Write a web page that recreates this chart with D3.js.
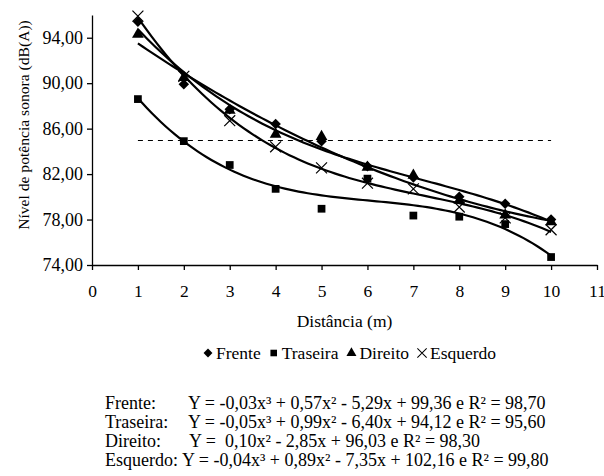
<!DOCTYPE html>
<html>
<head>
<meta charset="utf-8">
<script src="https://cdn.jsdelivr.net/npm/d3@7"></script>
<style>
  body { margin: 0; background: #fff; }
  svg text { font-family: "Liberation Serif", "Times New Roman", Times, serif; fill: #000; }
</style>
</head>
<body>
<div id="chart"></div>
<script>
const distances = [1, 2, 3, 4, 5, 6, 7, 8, 9, 10];
const frente   = [95.4, 89.9, 87.7, 86.4, 84.9, 82.7, 81.7, 80.0, 79.4, 78.0];
const traseira = [88.6, 84.9, 82.8, 80.7, 78.95, 81.6, 78.35, 78.25, 77.6, 74.7];
const direito  = [94.3, 90.5, 87.6, 85.5, 85.3, 82.6, 81.9, 79.7, 78.4, 77.8];
const esquerdo = [95.9, 90.6, 86.7, 84.4, 82.55, 81.2, 80.7, 79.1, 78.15, 77.1];
const seriesNames = ['Frente', 'Traseira', 'Direito', 'Esquerdo'];
const fitDegrees = [3, 3, 2, 3];
const yTicks = [74, 78, 82, 86, 90, 94];
const xTicks = [0, 1, 2, 3, 4, 5, 6, 7, 8, 9, 10, 11];
const referenceLevel = 85;
const equations = [
  ['Frente:', 'Y = -0,03x³ + 0,57x² - 5,29x + 99,36 e R² = 98,70'],
  ['Traseira:', 'Y = -0,05x³ + 0,99x² - 6,40x + 94,12 e R² = 95,60'],
  ['Direito:', 'Y =  0,10x² - 2,85x + 96,03 e R² = 98,30'],
  ['Esquerdo:', 'Y = -0,04x³ + 0,89x² - 7,35x + 102,16 e R² = 99,80']
];

const width = 604, height = 476;
const margin = { left: 92, right: 7, top: 15, bottom: 211 };
const fontFamily = '"Liberation Serif", "Times New Roman", serif';

const svg = d3.select('#chart').append('svg')
  .attr('width', width)
  .attr('height', height);

const x = d3.scaleLinear().domain([0, 11]).range([margin.left, width - margin.right]);
const y = d3.scaleLinear().domain([74, 96]).range([height - margin.bottom, margin.top]);

// least squares polynomial fit (like the excel trend lines)
function polyfit(xs, ys, deg) {
  const n = deg + 1;
  const A = [];
  for (let i = 0; i < n; i++) {
    A.push(new Array(n + 1).fill(0));
    for (let j = 0; j < n; j++) {
      A[i][j] = d3.sum(xs, v => Math.pow(v, i + j));
    }
    A[i][n] = d3.sum(xs, (v, k) => ys[k] * Math.pow(v, i));
  }
  for (let c = 0; c < n; c++) {
    let p = c;
    for (let r = c + 1; r < n; r++) if (Math.abs(A[r][c]) > Math.abs(A[p][c])) p = r;
    [A[c], A[p]] = [A[p], A[c]];
    for (let r = 0; r < n; r++) {
      if (r === c) continue;
      const f = A[r][c] / A[c][c];
      for (let k = c; k <= n; k++) A[r][k] -= f * A[c][k];
    }
  }
  return A.map((row, i) => row[n] / row[i]);
}

const allSeries = [frente, traseira, direito, esquerdo].map((vals, i) => ({
  name: seriesNames[i],
  points: distances.map((d, k) => [d, vals[k]]),
  coef: polyfit(distances, vals, fitDegrees[i])
}));

// axes
const yAxis = svg.append('g')
  .attr('transform', 'translate(' + margin.left + ',0)')
  .call(d3.axisLeft(y).tickValues(yTicks).tickSize(5).tickSizeOuter(0)
    .tickFormat(d => d3.format('.2f')(d).replace('.', ',')));

const xAxis = svg.append('g')
  .attr('transform', 'translate(0,' + y(74) + ')')
  .call(d3.axisBottom(x).tickValues(xTicks).tickSize(5).tickSizeOuter(0));

[xAxis, yAxis].forEach(ax => {
  ax.attr('font-family', fontFamily);
  ax.select('.domain').attr('stroke', '#000').attr('stroke-width', 1.3);
  ax.selectAll('.tick line').attr('stroke', '#000').attr('stroke-width', 1.3);
  ax.selectAll('.tick text')
    .style('font-family', fontFamily)
    .style('font-size', '17.5px')
    .attr('fill', '#000');
});
yAxis.selectAll('.tick text').attr('x', -9).style('font-size', '18px');
xAxis.selectAll('.tick text').attr('y', 20);

// reference dashed line at 85 dB(A)
svg.append('line')
  .attr('x1', x(1)).attr('x2', x(10))
  .attr('y1', y(referenceLevel) + 0.5).attr('y2', y(referenceLevel) + 0.5)
  .attr('stroke', '#000')
  .attr('stroke-width', 1)
  .attr('stroke-dasharray', '5,5');

// trend lines
const line = d3.line()
  .x(d => x(d[0]))
  .y(d => y(d[1]));

const samples = d3.range(1, 10.001, 0.1);
allSeries.forEach(s => {
  const pts = samples.map(v => [v, s.coef.reduce((acc, c, i) => acc + c * Math.pow(v, i), 0)]);
  svg.append('path')
    .datum(pts)
    .attr('fill', 'none')
    .attr('stroke', '#000')
    .attr('stroke-width', 2.2)
    .attr('d', line);
});

// markers
const symbols = {
  Frente: d3.symbol().type(d3.symbolDiamond2).size(70),
  Traseira: d3.symbol().type(d3.symbolSquare).size(60),
  Direito: d3.symbol().type(d3.symbolTriangle).size(60),
  Esquerdo: d3.symbol().type(d3.symbolX).size(80)
};

function drawMarker(g, name, cx, cy, scale) {
  const p = g.append('path')
    .attr('transform', 'translate(' + cx + ',' + cy + ') scale(' + (scale || 1) + ')')
    .attr('d', symbols[name]());
  if (name === 'Esquerdo') {
    p.attr('fill', 'none').attr('stroke', '#000').attr('stroke-width', 1.2);
  } else {
    p.attr('fill', '#000');
  }
}

allSeries.forEach(s => {
  const g = svg.append('g');
  s.points.forEach(d => drawMarker(g, s.name, x(d[0]), y(d[1])));
});

// axis titles
svg.append('text')
  .attr('x', (x(0) + x(11)) / 2)
  .attr('y', 327)
  .attr('text-anchor', 'middle')
  .style('font-size', '17.5px')
  .text('Distância (m)');

svg.append('text')
  .attr('transform', 'translate(29,125) rotate(-90)')
  .attr('text-anchor', 'middle')
  .style('font-size', '15.6px')
  .text('Nível de potência sonora (dB(A))');

// legend
const legend = svg.append('g');
let lx = 208;
seriesNames.forEach(name => {
  drawMarker(legend, name, lx, 353, 0.85);
  const t = legend.append('text')
    .attr('x', lx + 8)
    .attr('y', 359)
    .style('font-size', '17.5px')
    .text(name);
  lx += 8 + t.node().getComputedTextLength() + 13;
});

// equations
const eq = svg.append('g');
const eqY = [409, 428, 447, 466];
const eqX = [188, 188, 189, 182];
equations.forEach((e, i) => {
  eq.append('text')
    .attr('x', 105).attr('y', eqY[i])
    .style('font-size', '18px')
    .text(e[0]);
  eq.append('text')
    .attr('x', eqX[i]).attr('y', eqY[i])
    .style('font-size', '18px')
    .style('white-space', 'pre')
    .text(e[1]);
});
</script>
</body>
</html>
